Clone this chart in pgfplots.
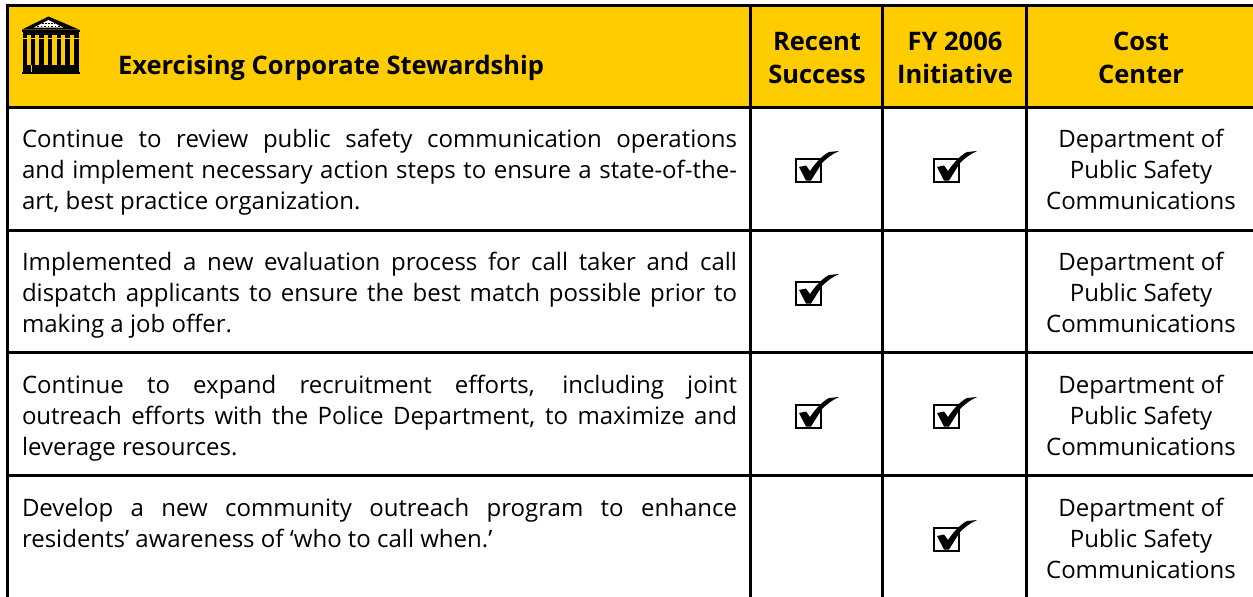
\documentclass[border=0pt]{standalone}
\usepackage{pgfplots}
\pgfplotsset{compat=1.18}
\usepackage{fontspec}
\setmainfont{Open Sans}
\definecolor{hdr}{HTML}{FFCC00}
\pgfdeclareplotmark{cbox}{%
  \pgfsetlinewidth{2.4pt}\pgfsetstrokecolor{black}\pgfsetfillcolor{black}
  \pgfsetmiterjoin
  \pgfpathrectangle{\pgfpoint{-20.8pt}{-9.8pt}}{\pgfpoint{24.6pt}{22.6pt}}\pgfusepathqstroke
  \pgfpathmoveto{\pgfpoint{-18pt}{5pt}}
  \pgfpathlineto{\pgfpoint{-11pt}{6.5pt}}
  \pgfpathlineto{\pgfpoint{-7pt}{1pt}}
  \pgfpathcurveto{\pgfpoint{-1pt}{10pt}}{\pgfpoint{6pt}{17pt}}{\pgfpoint{12pt}{20pt}}
  \pgfpathlineto{\pgfpoint{22pt}{21pt}}
  \pgfpathcurveto{\pgfpoint{15pt}{18pt}}{\pgfpoint{9pt}{13pt}}{\pgfpoint{5pt}{9pt}}
  \pgfpathlineto{\pgfpoint{-6pt}{-8.5pt}}
  \pgfpathlineto{\pgfpoint{-11pt}{-8.5pt}}
  \pgfpathclose\pgfusepathqfill
}
\newcommand{\jl}[1]{\makebox[715pt][s]{#1}}
\tikzset{tx/.style={inner sep=0pt, outer sep=0pt},
  hd/.style={tx, font=\fontsize{25.5}{30}\selectfont\bfseries},
  bd/.style={tx, font=\fontsize{24}{30}\selectfont}}
\begin{document}
\begin{tikzpicture}
\begin{axis}[
  scale only axis, width=1253pt, height=597pt,
  xmin=0, xmax=1253, ymin=0, ymax=597, y dir=reverse,
  hide axis, clip=true,
]
% header fill
\addplot[draw=none, fill=hdr] coordinates {(7.5,5.5) (1253,5.5) (1253,107.5) (7.5,107.5)} --cycle;
% rules
\addplot[black, line width=3pt] coordinates {(7.5,4) (7.5,597)};
\addplot[black, line width=3pt] coordinates {(6,5.5) (1253,5.5)};
\addplot[black, line width=3pt] coordinates {(6,107.5) (1253,107.5)};
\addplot[black, line width=3pt] coordinates {(6,230) (1253,230)};
\addplot[black, line width=3pt] coordinates {(6,352.5) (1253,352.5)};
\addplot[black, line width=3pt] coordinates {(6,475.5) (1253,475.5)};
\addplot[black, line width=3pt] coordinates {(750.5,5) (750.5,597)};
\addplot[black, line width=3pt] coordinates {(882.5,5) (882.5,597)};
\addplot[black, line width=3pt] coordinates {(1026.5,5) (1026.5,597)};
% temple
\addplot[draw=none, fill=black] coordinates {(48.5,16.5) (79,29.5) (22,29.5)} --cycle;
\addplot[draw=none, fill=white] coordinates {(48.5,20) (63,27.5) (34,27.5)} --cycle;
\addplot[black, line width=1.2pt, dash pattern=on 1.5pt off 2pt] coordinates {(37,26.5) (60,26.5)};
\addplot[black, line width=1pt, dash pattern=on 1.5pt off 1.5pt] coordinates {(42,23.5) (55,23.5)};
\addplot[draw=none, fill=black] coordinates {(22,29.5) (80,29.5) (80,32) (22,32)} --cycle;
\addplot[draw=none, fill=black] coordinates {(23,32) (78.5,32) (78.5,72) (23,72)} --cycle;
\addplot[draw=none, fill=black] coordinates {(22,71.5) (80,71.5) (80,74) (22,74)} --cycle;
\addplot[draw=none, fill=hdr] coordinates {(26.7,35) (30.7,35) (30.7,65) (26.7,65)} --cycle;
\addplot[draw=none, fill=hdr] coordinates {(35,35) (39.3,35) (39.3,65) (35,65)} --cycle;
\addplot[draw=none, fill=hdr] coordinates {(44,35) (48.3,35) (48.3,65) (44,65)} --cycle;
\addplot[draw=none, fill=hdr] coordinates {(52.3,35) (56.7,35) (56.7,65) (52.3,65)} --cycle;
\addplot[draw=none, fill=hdr] coordinates {(61,35) (65,35) (65,65) (61,65)} --cycle;
\addplot[draw=none, fill=hdr] coordinates {(70,35) (74.3,35) (74.3,65) (70,65)} --cycle;
\addplot[hdr, line width=.7pt] coordinates {(23,38.5) (78.5,38.5)};
\addplot[hdr, line width=.8pt] coordinates {(31,65) (31,72)};
% check marks
\addplot[only marks, mark=cbox] coordinates {
 (817,172) (955,172) (817,295) (817,418) (955,418) (955,541)};
% header text
\node[hd, anchor=base west] at (axis cs:118,74) {Exercising Corporate Stewardship};
\node[hd, anchor=base] at (axis cs:817,50) {Recent};
\node[hd, anchor=base] at (axis cs:817,83) {Success};
\node[hd, anchor=base] at (axis cs:955,50) {FY 2006};
\node[hd, anchor=base] at (axis cs:955,83) {Initiative};
\node[hd, anchor=base] at (axis cs:1141,50) {Cost};
\node[hd, anchor=base] at (axis cs:1141,83) {Center};
% body text
\node[bd, anchor=base west] at (axis cs:22,147) {\jl{Continue to review public safety communication operations}};
\node[bd, anchor=base west] at (axis cs:22,178) {\jl{and implement necessary action steps to ensure a state-of-the-}};
\node[bd, anchor=base west] at (axis cs:22,209) {art, best practice organization.};
\node[bd, anchor=base west] at (axis cs:22,270) {\jl{Implemented a new evaluation process for call taker and call}};
\node[bd, anchor=base west] at (axis cs:22,301) {\jl{dispatch applicants to ensure the best match possible prior to}};
\node[bd, anchor=base west] at (axis cs:22,332) {making a job offer.};
\node[bd, anchor=base west] at (axis cs:22,393) {\jl{Continue to expand recruitment efforts, including joint}};
\node[bd, anchor=base west] at (axis cs:22,424) {\jl{outreach efforts with the Police Department, to maximize and}};
\node[bd, anchor=base west] at (axis cs:22,455) {leverage resources.};
\node[bd, anchor=base west] at (axis cs:22,516) {\jl{Develop a new community outreach program to enhance}};
\node[bd, anchor=base west] at (axis cs:22,547) {residents’ awareness of ‘who to call when.’};
\node[bd, anchor=base] at (axis cs:1141,147) {Department of};
\node[bd, anchor=base] at (axis cs:1141,178) {Public Safety};
\node[bd, anchor=base] at (axis cs:1141,209) {Communications};
\node[bd, anchor=base] at (axis cs:1141,270) {Department of};
\node[bd, anchor=base] at (axis cs:1141,301) {Public Safety};
\node[bd, anchor=base] at (axis cs:1141,332) {Communications};
\node[bd, anchor=base] at (axis cs:1141,393) {Department of};
\node[bd, anchor=base] at (axis cs:1141,424) {Public Safety};
\node[bd, anchor=base] at (axis cs:1141,455) {Communications};
\node[bd, anchor=base] at (axis cs:1141,516) {Department of};
\node[bd, anchor=base] at (axis cs:1141,547) {Public Safety};
\node[bd, anchor=base] at (axis cs:1141,578) {Communications};
\end{axis}
\pgfresetboundingbox
\path[use as bounding box] (0,0) rectangle (1253pt,597pt);
\end{tikzpicture}
\end{document}
